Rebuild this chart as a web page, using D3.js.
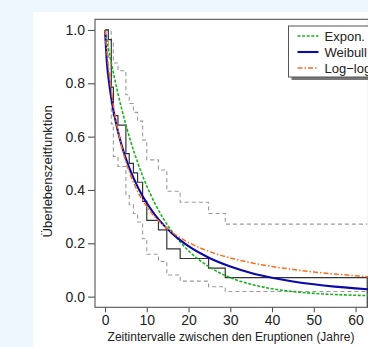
<!DOCTYPE html>
<html>
<head>
<meta charset="utf-8">
<script src="https://cdn.jsdelivr.net/npm/d3@7"></script>
<style>
  html, body { margin: 0; padding: 0; background: #edf7fd; overflow: hidden; }
  svg { display: block; }
  text { font-family: "Liberation Sans", Arial, Helvetica, sans-serif; fill: #222; }
</style>
</head>
<body>
<svg id="chart" width="368" height="347"></svg>
<script>
// ---------- data ----------
// Kaplan–Meier step function (time in years, survival)
const kmTime  = [0, 0.8, 1.5, 2.0, 3.1, 5.0, 5.8, 6.8, 7.8, 9.0, 10.0, 12.8, 14.8, 18.0, 24.8, 28.8];
const kmSurv  = [1, 0.964, 0.786, 0.679, 0.643, 0.536, 0.500, 0.464, 0.429, 0.357, 0.286, 0.250, 0.179, 0.143, 0.107, 0.071];
const ciUpper = [1, 1, 0.954, 0.876, 0.847, 0.757, 0.724, 0.691, 0.658, 0.587, 0.513, 0.475, 0.395, 0.354, 0.312, 0.272];
const ciLower = [1, 0.898, 0.648, 0.526, 0.488, 0.379, 0.345, 0.312, 0.280, 0.217, 0.159, 0.132, 0.081, 0.058, 0.037, 0.019];
const kmLastTime = 62.8;

// fitted parametric survival curves, sampled
const curveTime = [0, 0.5, 1, 1.5, 2, 3, 4, 5, 6, 8, 10, 12, 14, 16, 18, 20, 25, 30, 35, 40, 45, 50, 55, 60, 63];
const expSurv   = [1, 0.957, 0.916, 0.876, 0.839, 0.768, 0.703, 0.644, 0.590, 0.495, 0.415, 0.348, 0.292, 0.245, 0.205, 0.172, 0.111, 0.0714, 0.0460, 0.0296, 0.0191, 0.0123, 0.0079, 0.0051, 0.0039];
const weibSurv  = [1, 0.868, 0.799, 0.745, 0.700, 0.626, 0.567, 0.518, 0.475, 0.406, 0.351, 0.306, 0.269, 0.238, 0.212, 0.189, 0.145, 0.113, 0.0888, 0.0708, 0.0570, 0.0462, 0.0377, 0.0310, 0.0276];
const llogSurv  = [1, 0.911, 0.836, 0.773, 0.718, 0.630, 0.561, 0.505, 0.460, 0.389, 0.338, 0.298, 0.267, 0.242, 0.221, 0.203, 0.169, 0.145, 0.127, 0.113, 0.102, 0.0926, 0.0849, 0.0783, 0.0749];

const xTicks = [0, 10, 20, 30, 40, 50, 60];
const yTicks = [0.0, 0.2, 0.4, 0.6, 0.8, 1.0];
const legendLabels = ["Expon.", "Weibull", "Log\u2212logist."];
const xTitle = "Zeitintervalle zwischen den Eruptionen (Jahre)";
const yTitle = "\u00DCberlebenszeitfunktion";

// ---------- layout ----------
const svg = d3.select("#chart");
const W = 368, H = 347;
const plot = { left: 95, right: 368.5, top: 19.3, bottom: 307.3 };

svg.append("rect").attr("x", 33).attr("y", 12).attr("width", W - 33).attr("height", H - 12).attr("fill", "#ffffff");

const x = d3.scaleLinear().domain([-2.4, 63.1]).range([plot.left, plot.right]);
const y = d3.scaleLinear().domain([-0.04, 1.04]).range([plot.bottom, plot.top]);

const g = svg.append("g");

svg.append("defs").append("clipPath").attr("id", "clip")
  .append("rect").attr("x", plot.left).attr("y", plot.top)
  .attr("width", plot.right - plot.left).attr("height", plot.bottom - plot.top);

const marks = g.append("g").attr("clip-path", "url(#clip)");

function stepPoints(times, vals, endTime) {
  const pts = times.map((t, i) => [t, vals[i]]);
  pts.push([endTime, vals[vals.length - 1]]);
  return pts;
}
const stepLine = d3.line().x(d => x(d[0])).y(d => y(d[1])).curve(d3.curveStepAfter);

// confidence bands
[ciUpper, ciLower].forEach(arr => {
  marks.append("path")
    .attr("d", stepLine(stepPoints(kmTime, arr, kmLastTime)))
    .attr("fill", "none").attr("stroke", "#9a9a9a").attr("stroke-width", 1.1)
    .attr("stroke-dasharray", "4,3");
});

// KM
const kmPts = stepPoints(kmTime, kmSurv, kmLastTime);
kmPts.push([kmLastTime, y.domain()[0]]);
marks.append("path")
  .attr("d", stepLine(kmPts))
  .attr("fill", "none").attr("stroke", "#333333").attr("stroke-width", 1.2);

// parametric curves
const smooth = d3.line().x(d => x(d[0])).y(d => y(d[1])).curve(d3.curveMonotoneX);
const series = [
  { vals: expSurv,  color: "#19b419", width: 1.6, dash: "3,1.6" },
  { vals: weibSurv, color: "#0a0aa8", width: 2.1, dash: null },
  { vals: llogSurv, color: "#ff6a1c", width: 1.5, dash: "5,2,1.5,2" }
];
series.forEach(s => {
  const p = marks.append("path")
    .attr("d", smooth(curveTime.map((t, i) => [t, s.vals[i]])))
    .attr("fill", "none").attr("stroke", s.color).attr("stroke-width", s.width);
  if (s.dash) p.attr("stroke-dasharray", s.dash);
});

// box
g.append("rect").attr("x", plot.left).attr("y", plot.top)
  .attr("width", plot.right - plot.left).attr("height", plot.bottom - plot.top)
  .attr("fill", "none").attr("stroke", "#555").attr("stroke-width", 1.1);

// axes
const xAxis = d3.axisBottom(x).tickValues(xTicks).tickSize(5).tickPadding(3).tickFormat(d3.format("d"));
const xa = g.append("g").attr("transform", `translate(0,${plot.bottom})`).call(xAxis);
const yAxis = d3.axisLeft(y).tickValues(yTicks).tickSize(7).tickPadding(3).tickFormat(d3.format(".1f"));
const ya = g.append("g").attr("transform", `translate(${plot.left},0)`).call(yAxis);
[xa, ya].forEach(a => {
  a.select(".domain").remove();
  a.selectAll("line").attr("stroke", "#555").attr("stroke-width", 1.1);
  a.selectAll("text").attr("font-size", 14).attr("fill", "#222")
    .attr("font-family", "Liberation Sans, Arial, sans-serif");
});

// titles
g.append("text").attr("x", (plot.left + 367) / 2).attr("y", 341)
  .attr("text-anchor", "middle").attr("font-size", 12).text(xTitle);
g.append("text").attr("transform", `translate(52,${(plot.top + plot.bottom) / 2 + 8}) rotate(-90)`)
  .attr("text-anchor", "middle").attr("font-size", 13).text(yTitle);

// legend
const lg = g.append("g").attr("transform", "translate(288.5,26)");
const lw = 110, lh = 51;
lg.append("rect").attr("x", 3).attr("y", 3).attr("width", lw).attr("height", lh).attr("fill", "#777");
lg.append("rect").attr("x", 0).attr("y", 0).attr("width", lw).attr("height", lh)
  .attr("fill", "#fff").attr("stroke", "#555").attr("stroke-width", 1);
series.forEach((s, i) => {
  const yy = 10 + i * 16;
  const l = lg.append("line").attr("x1", 9).attr("x2", 30).attr("y1", yy).attr("y2", yy)
    .attr("stroke", s.color).attr("stroke-width", s.width);
  if (s.dash) l.attr("stroke-dasharray", s.dash);
  lg.append("text").attr("x", 36).attr("y", yy + 4.5).attr("font-size", 13).text(legendLabels[i]);
});
</script>
</body>
</html>
